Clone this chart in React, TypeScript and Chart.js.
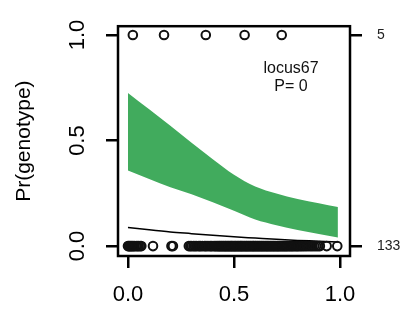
import React, { useEffect, useRef } from "react";
import { Chart, registerables } from "chart.js";

Chart.register(...registerables);

const FONT = "'Liberation Sans', Arial, Helvetica, sans-serif";

// ticks
const xTicks = [0, 0.5, 1];
const yTicks = [0, 0.5, 1];
const rightTicks = [0, 1];
const rightTickLabels = ["133", "5"];

// confidence band (green)
const bandX = [0, 0.1, 0.2, 0.3, 0.4, 0.5, 0.6, 0.7, 0.8, 0.9, 0.99];
const bandUpper = [0.726, 0.648, 0.57, 0.49, 0.412, 0.338, 0.282, 0.249, 0.223, 0.203, 0.185];
const bandLower = [0.358, 0.318, 0.279, 0.246, 0.208, 0.167, 0.126, 0.099, 0.076, 0.057, 0.041];

// fitted curve (black)
const curveX = [0, 0.1, 0.2, 0.3, 0.4, 0.5, 0.6, 0.7, 0.8, 0.9, 0.99];
const curveY = [0.088, 0.077, 0.067, 0.059, 0.051, 0.044, 0.038, 0.032, 0.027, 0.023, 0.019];

// observations
const topPointsX = [0.023, 0.17, 0.367, 0.55, 0.725];
const bottomPointsX = [
  0.0, 0.004, 0.008, 0.012, 0.017, 0.021, 0.026, 0.031, 0.038, 0.044, 0.05, 0.057, 0.063,
  0.118,
  0.205, 0.212,
  0.287, 0.294, 0.301, 0.309, 0.316, 0.322, 0.331, 0.338, 0.344, 0.352, 0.361, 0.367, 0.373,
  0.382, 0.389, 0.394, 0.401, 0.408, 0.413, 0.419, 0.424, 0.429, 0.433, 0.438, 0.442, 0.447,
  0.451, 0.456, 0.46, 0.464, 0.469, 0.473, 0.477, 0.482, 0.486, 0.49, 0.494, 0.499, 0.503,
  0.507, 0.511, 0.516, 0.52, 0.524, 0.529, 0.533, 0.537, 0.541, 0.546, 0.55, 0.555, 0.559,
  0.563, 0.568, 0.572, 0.577, 0.581, 0.586, 0.59, 0.594, 0.599, 0.603, 0.608, 0.612, 0.617,
  0.621, 0.626, 0.63, 0.635, 0.639, 0.644, 0.649, 0.653, 0.658, 0.662, 0.667, 0.672, 0.676,
  0.681, 0.686, 0.69, 0.695, 0.7, 0.705, 0.709, 0.714, 0.719, 0.724, 0.729, 0.734, 0.739,
  0.744, 0.749, 0.754, 0.76, 0.765, 0.771, 0.776, 0.782, 0.788, 0.794, 0.8, 0.806, 0.813,
  0.82, 0.827, 0.835, 0.843, 0.852, 0.861, 0.869, 0.878, 0.887, 0.896, 0.905,
  0.937, 0.987,
];

const locusLabel = "locus67";
const pLabel = "P= 0";
const labelPos = { x: 0.769, y1: 0.842, y2: 0.755 };
const yTitle = "Pr(genotype)";

const framePlugin = {
  id: "frame",
  afterDraw(chart: any) {
    const { ctx, chartArea } = chart;
    ctx.save();
    ctx.strokeStyle = "#000";
    ctx.lineWidth = 2.5;
    ctx.strokeRect(chartArea.left, chartArea.top, chartArea.right - chartArea.left, chartArea.bottom - chartArea.top);
    ctx.restore();
  },
};

const textPlugin = {
  id: "legendText",
  afterDatasetsDraw(chart: any) {
    const { ctx, scales } = chart;
    const x = scales.x.getPixelForValue(labelPos.x);
    ctx.save();
    ctx.fillStyle = "#111";
    ctx.font = `16px ${FONT}`;
    ctx.textAlign = "center";
    ctx.textBaseline = "middle";
    ctx.fillText(locusLabel, x, scales.y.getPixelForValue(labelPos.y1));
    ctx.fillText(pLabel, x, scales.y.getPixelForValue(labelPos.y2));
    ctx.restore();
  },
};

export default function App() {
  const ref = useRef<HTMLCanvasElement | null>(null);

  useEffect(() => {
    if (!ref.current) return;
    const gridOpts = {
      drawOnChartArea: false,
      drawTicks: true,
      tickLength: 12,
      color: "#000",
      lineWidth: 2.5,
    };
    const chart = new Chart(ref.current, {
      type: "scatter",
      data: {
        datasets: [
          {
            label: "lower",
            data: bandX.map((x, i) => ({ x, y: bandLower[i] })),
            showLine: true,
            borderWidth: 0,
            borderColor: "rgba(0,0,0,0)",
            pointRadius: 0,
            cubicInterpolationMode: "monotone",
            fill: false,
            order: 4,
          },
          {
            label: "upper",
            data: bandX.map((x, i) => ({ x, y: bandUpper[i] })),
            showLine: true,
            borderWidth: 0,
            borderColor: "rgba(0,0,0,0)",
            backgroundColor: "#41AB5D",
            pointRadius: 0,
            cubicInterpolationMode: "monotone",
            fill: "-1",
            order: 3,
          },
          {
            label: "curve",
            data: curveX.map((x, i) => ({ x, y: curveY[i] })),
            showLine: true,
            borderColor: "#000",
            borderWidth: 1.5,
            pointRadius: 0,
            cubicInterpolationMode: "monotone",
            fill: false,
            order: 2,
          },
          {
            label: "top",
            data: topPointsX.map((x) => ({ x, y: 1 })),
            pointRadius: 4.3,
            pointBorderWidth: 2,
            pointBorderColor: "#111",
            pointBackgroundColor: "rgba(0,0,0,0)",
            order: 1,
          },
          {
            label: "bottom",
            data: bottomPointsX.map((x) => ({ x, y: 0 })),
            pointRadius: 4.3,
            pointBorderWidth: 2,
            pointBorderColor: "#111",
            pointBackgroundColor: "rgba(0,0,0,0)",
            order: 0,
          },
        ] as any,
      },
      options: {
        animation: false,
        responsive: false,
        maintainAspectRatio: false,
        layout: { padding: { left: 0, right: 0, top: 25, bottom: 0 } },
        plugins: { legend: { display: false }, tooltip: { enabled: false } },
        scales: {
          x: {
            type: "linear",
            position: "bottom",
            min: -0.047,
            max: 1.047,
            afterBuildTicks: (s: any) => {
              s.ticks = xTicks.map((v) => ({ value: v }));
            },
            afterFit: (s: any) => {
              s.height = 56;
            },
            grid: gridOpts,
            border: { display: false },
            ticks: {
              autoSkip: false,
              color: "#000",
              padding: 14,
              maxRotation: 0,
              font: { family: FONT, size: 22 },
              callback: (v: any) => Number(v).toFixed(1),
            },
          },
          y: {
            type: "linear",
            position: "left",
            min: -0.047,
            max: 1.042,
            afterBuildTicks: (s: any) => {
              s.ticks = yTicks.map((v) => ({ value: v }));
            },
            afterFit: (s: any) => {
              s.width = 118;
            },
            grid: gridOpts,
            border: { display: false },
            title: {
              display: true,
              text: yTitle,
              color: "#000",
              font: { family: FONT, size: 21 },
              padding: { top: 12, bottom: 0 },
            },
            ticks: {
              autoSkip: false,
              color: "#000",
              padding: 13,
              minRotation: 90,
              maxRotation: 90,
              crossAlign: "center",
              font: { family: FONT, size: 22 },
              callback: (v: any) => Number(v).toFixed(1),
            },
          },
          y2: {
            type: "linear",
            position: "right",
            min: -0.047,
            max: 1.042,
            afterBuildTicks: (s: any) => {
              s.ticks = rightTicks.map((v) => ({ value: v }));
            },
            afterFit: (s: any) => {
              s.width = 53;
            },
            grid: gridOpts,
            border: { display: false },
            ticks: {
              autoSkip: false,
              color: "#222",
              padding: 15,
              font: { family: FONT, size: 14 },
              callback: (_v: any, i: number) => rightTickLabels[i],
            },
          },
        },
      } as any,
      plugins: [framePlugin, textPlugin],
    });
    return () => chart.destroy();
  }, []);

  return (
    <div style={{ position: "fixed", left: 0, top: 0, width: 403, height: 312, background: "#fff" }}>
      <canvas ref={ref} width={403} height={312} style={{ display: "block", width: 403, height: 312 }} />
    </div>
  );
}
